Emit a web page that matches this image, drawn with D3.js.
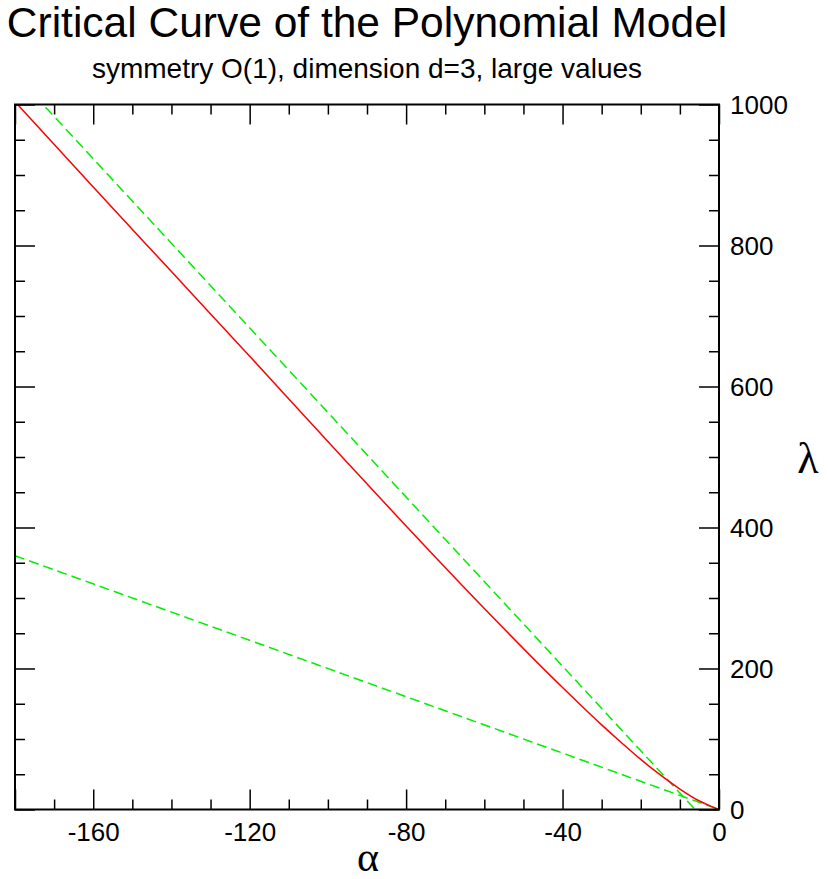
<!DOCTYPE html>
<html>
<head>
<meta charset="utf-8">
<script src="https://cdn.jsdelivr.net/npm/d3@7"></script>
<style>
  body { margin: 0; background: #fff; }
  text { font-family: "Liberation Sans", Arial, sans-serif; fill: #000; }
</style>
</head>
<body>
<div id="chart"></div>
<script>
// critical curve (alpha, lambda)
var criticalAlpha = [-180, -160, -140, -120, -100, -80, -60, -40, -30, -25, -20, -15, -10, -5, -2, 0];
var criticalLambda = [1004, 883, 763, 643, 522, 402, 285, 173, 120, 95, 71, 49, 29, 12, 4.4, 0];
// the two dashed asymptotes
var steepAlpha = [-180, -6.1];
var steepLambda = [1043, 0];
var shallowAlpha = [-180, 0];
var shallowLambda = [360, 0];

var xLabelTicks = [-160, -120, -80, -40, 0];
var xMajorTicks = [-180, -160, -120, -80, -40, 0];
var xMinorTicks = [-170, -150, -140, -130, -110, -100, -90, -70, -60, -50, -30, -20, -10];
var yLabelTicks = [0, 200, 400, 600, 800, 1000];
var yMinorTicks = [50, 100, 150, 250, 300, 350, 450, 500, 550, 650, 700, 750, 850, 900, 950];

var titleText = 'Critical Curve of the Polynomial Model';
var subtitleText = 'symmetry O(1), dimension d=3, large values';

(function () {
    var W = 829, H = 879;
    var m = { left: 15, right: 719, top: 104.5, bottom: 809.5 };

    var svg = d3.select('#chart').append('svg').attr('width', W).attr('height', H);

    var x = d3.scaleLinear().domain([-180, 0]).range([m.left, m.right]);
    var y = d3.scaleLinear().domain([0, 1000]).range([m.bottom, m.top]);

    svg.append('defs').append('clipPath').attr('id', 'plot-clip')
        .append('rect')
        .attr('x', m.left).attr('y', m.top)
        .attr('width', m.right - m.left).attr('height', m.bottom - m.top);

    function zip(a, b) {
        return a.map(function (d, i) { return [d, b[i]]; });
    }

    var line = d3.line()
        .x(function (d) { return x(d[0]); })
        .y(function (d) { return y(d[1]); });
    var curve = d3.line()
        .curve(d3.curveMonotoneX)
        .x(function (d) { return x(d[0]); })
        .y(function (d) { return y(d[1]); });

    var plot = svg.append('g').attr('clip-path', 'url(#plot-clip)');

    plot.append('path')
        .datum(zip(steepAlpha, steepLambda))
        .attr('d', line)
        .attr('fill', 'none')
        .attr('stroke', '#00ee00')
        .attr('stroke-width', 1.5)
        .attr('stroke-dasharray', '10,5');

    plot.append('path')
        .datum(zip(shallowAlpha, shallowLambda))
        .attr('d', line)
        .attr('fill', 'none')
        .attr('stroke', '#00ee00')
        .attr('stroke-width', 1.5)
        .attr('stroke-dasharray', '10,5');

    plot.append('path')
        .datum(zip(criticalAlpha, criticalLambda))
        .attr('d', curve)
        .attr('fill', 'none')
        .attr('stroke', '#ff0000')
        .attr('stroke-width', 1.5);

    // ticks on all four sides, pointing inward
    function tickAxis(axis, vals, size) {
        return axis.tickValues(vals).tickSize(size).tickFormat('');
    }
    var axes = [
        [d3.axisBottom(x), 'translate(0,' + m.bottom + ')', xMajorTicks, -20],
        [d3.axisBottom(x), 'translate(0,' + m.bottom + ')', xMinorTicks, -10],
        [d3.axisTop(x), 'translate(0,' + m.top + ')', xMajorTicks, -20],
        [d3.axisTop(x), 'translate(0,' + m.top + ')', xMinorTicks, -10],
        [d3.axisLeft(y), 'translate(' + m.left + ',0)', yLabelTicks, -20],
        [d3.axisLeft(y), 'translate(' + m.left + ',0)', yMinorTicks, -10],
        [d3.axisRight(y), 'translate(' + m.right + ',0)', yLabelTicks, -20],
        [d3.axisRight(y), 'translate(' + m.right + ',0)', yMinorTicks, -10]
    ];
    axes.forEach(function (a) {
        var g = svg.append('g').attr('transform', a[1]).call(tickAxis(a[0], a[2], a[3]));
        g.select('.domain').remove();
        g.selectAll('line').attr('stroke', '#000').attr('stroke-width', 1.5);
    });

    svg.append('rect')
        .attr('x', m.left).attr('y', m.top)
        .attr('width', m.right - m.left).attr('height', m.bottom - m.top)
        .attr('fill', 'none')
        .attr('stroke', '#000')
        .attr('stroke-width', 2);

    // tick labels, plain hyphen for minus
    var fmt = function (d) { return String(d); };

    var xLab = svg.append('g').attr('transform', 'translate(0,' + m.bottom + ')')
        .call(d3.axisBottom(x).tickValues(xLabelTicks).tickSize(0).tickPadding(0).tickFormat(fmt));
    xLab.select('.domain').remove();
    xLab.selectAll('text')
        .attr('y', 31).attr('dy', null)
        .style('font-family', '"Liberation Sans", Arial, sans-serif')
        .style('font-size', '26px');

    var yLab = svg.append('g').attr('transform', 'translate(' + m.right + ',0)')
        .call(d3.axisRight(y).tickValues(yLabelTicks).tickSize(0).tickPadding(0).tickFormat(fmt));
    yLab.select('.domain').remove();
    yLab.selectAll('text')
        .attr('x', 11).attr('dy', '0.35em')
        .style('font-family', '"Liberation Sans", Arial, sans-serif')
        .style('font-size', '26px');

    // titles
    var cx = (m.left + m.right) / 2;
    svg.append('text')
        .attr('x', cx).attr('y', 37)
        .attr('text-anchor', 'middle')
        .style('font-size', '42.5px')
        .text(titleText);
    svg.append('text')
        .attr('x', cx).attr('y', 78)
        .attr('text-anchor', 'middle')
        .style('font-size', '28px')
        .text(subtitleText);

    svg.append('text')
        .attr('x', 368).attr('y', 871)
        .attr('text-anchor', 'middle')
        .style('font-family', '"Liberation Serif", "Times New Roman", serif')
        .style('font-size', '42px')
        .text('\u03b1');
    svg.append('text')
        .attr('x', 808).attr('y', 473)
        .attr('text-anchor', 'middle')
        .style('font-family', '"Liberation Serif", "Times New Roman", serif')
        .style('font-size', '44px')
        .text('\u03bb');
})();
</script>
</body>
</html>
